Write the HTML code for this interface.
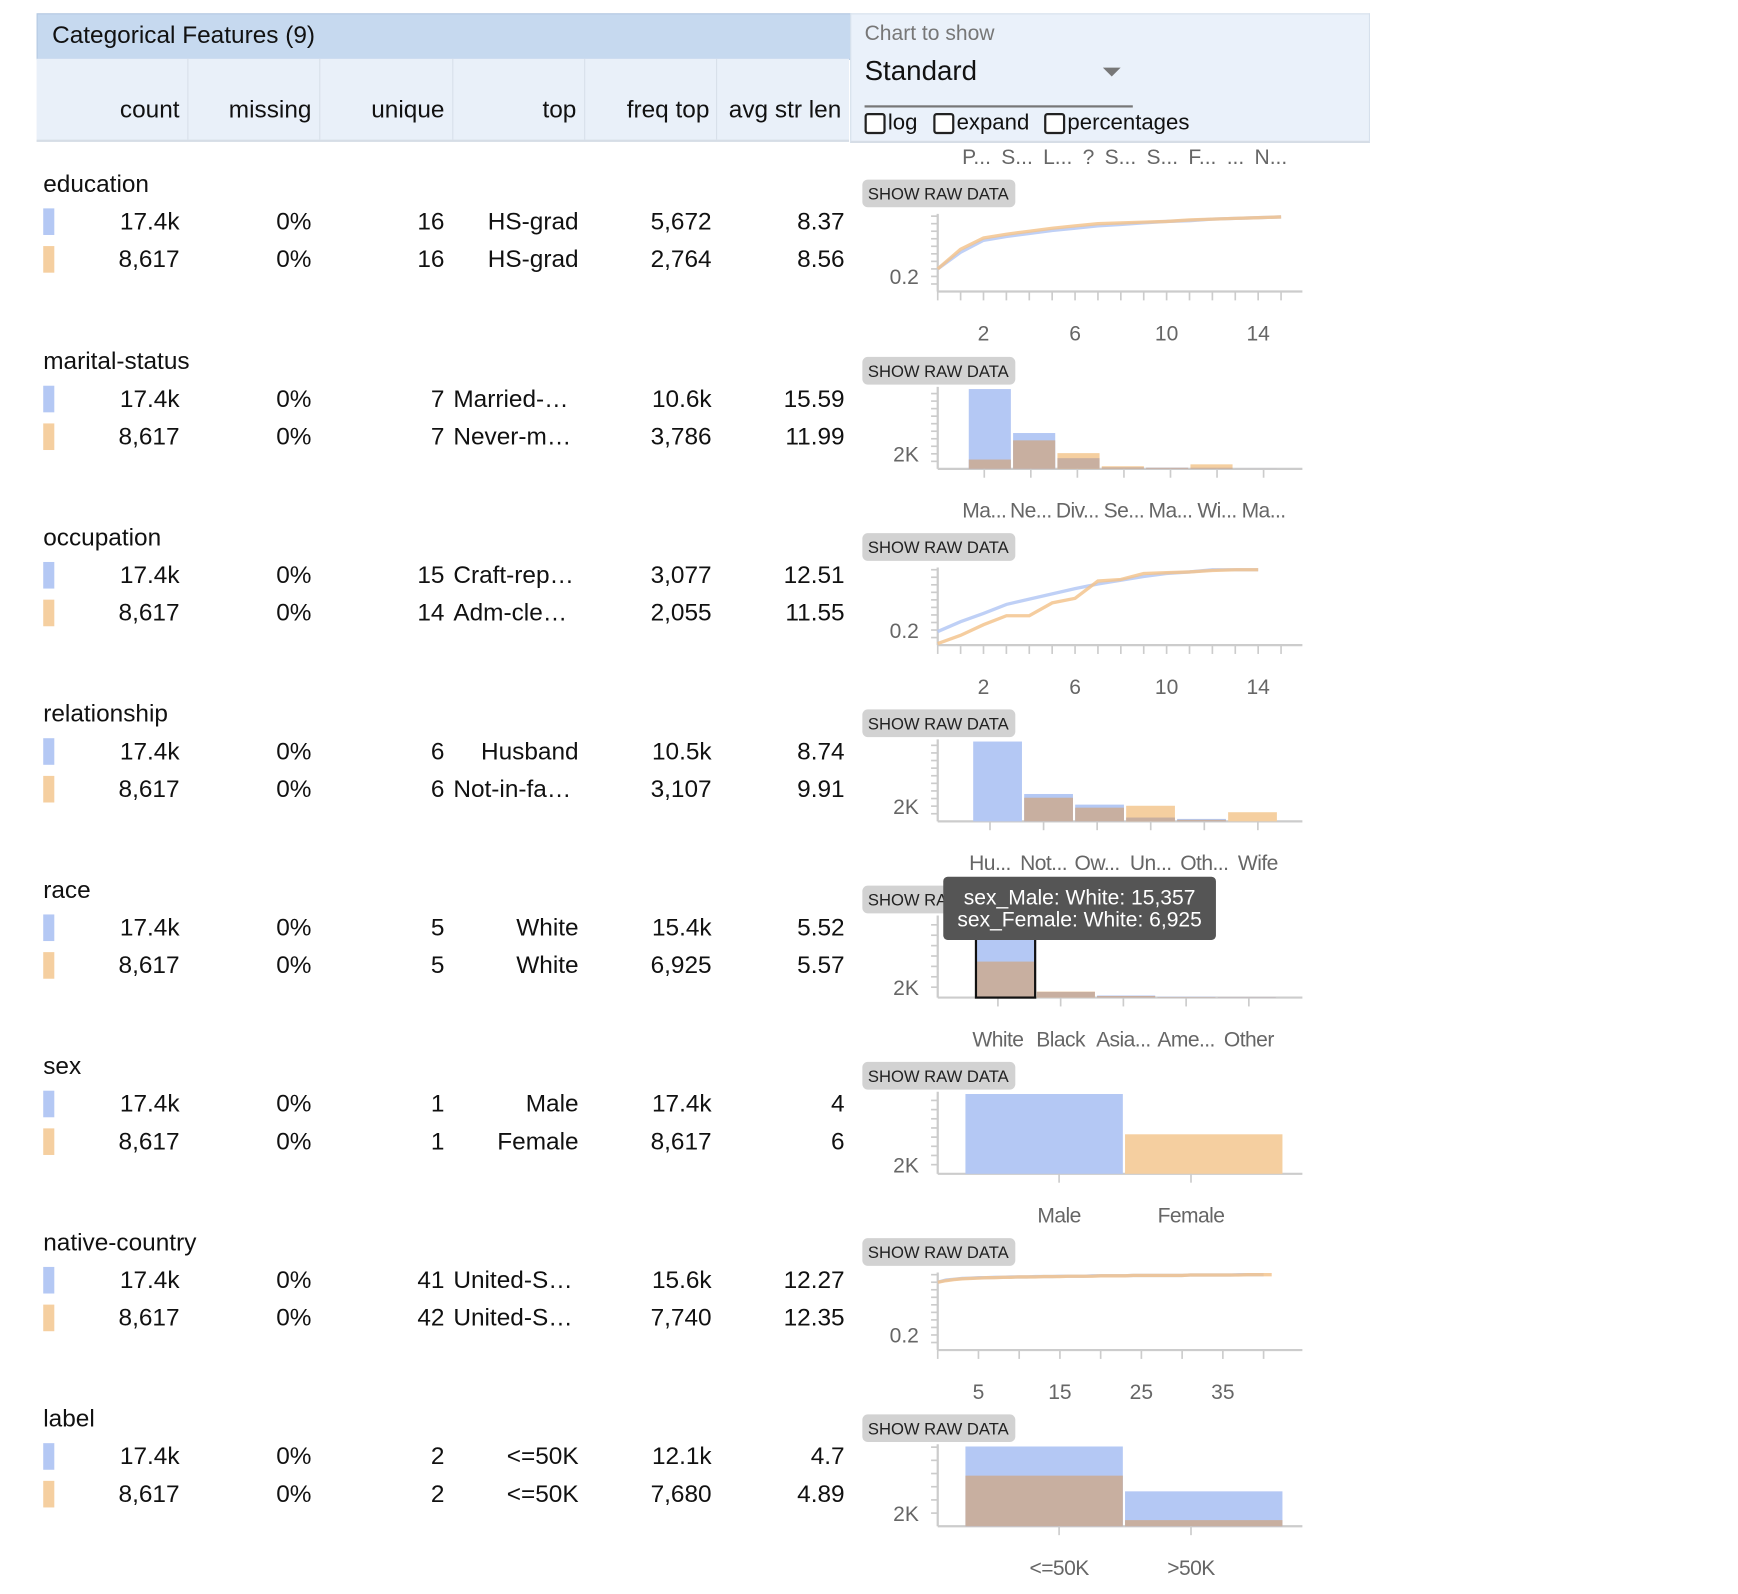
<!DOCTYPE html>
<html><head><meta charset="utf-8">
<style>
html,body{margin:0;padding:0;background:#fff;overflow:hidden;width:1738px;height:1594px}
#root{position:absolute;left:0;top:0;width:1568px;height:1438px;transform:scale(1.10842);transform-origin:0 0;font-family:"Liberation Sans",sans-serif;color:#111}
.a{position:absolute;white-space:nowrap}
.hdr{font-size:22px;text-align:right}
.v{font-size:22px;text-align:right;position:absolute;white-space:nowrap}
.name{font-size:22px;position:absolute}
.sw{position:absolute;width:10px;height:24px}
.cb{position:absolute;width:15px;height:15px;border:2px solid #222;border-radius:3px;background:#fff}
</style></head><body>
<div id="root">
  <div class="a" style="left:33px;top:12px;width:733px;height:40px;background:#c6d9ef;border:1px solid #b5c9e2"></div>
  <div class="a" style="left:47px;top:19px;font-size:22px">Categorical Features (9)</div>
  <div class="a" style="left:33px;top:53px;width:733px;height:73px;background:#e9f0f9;border-bottom:2px solid #d6dde6"></div>
  <div class="a" style="left:767px;top:12px;width:467px;height:114px;background:#eaf1fa;border:1px solid #d6e0ec;border-bottom:2px solid #d6dde6"></div>
  <div class="a" style="left:169px;top:53px;width:1px;height:73px;background:#d8e0ea"></div>
  <div class="a" style="left:288px;top:53px;width:1px;height:73px;background:#d8e0ea"></div>
  <div class="a" style="left:408px;top:53px;width:1px;height:73px;background:#d8e0ea"></div>
  <div class="a" style="left:527px;top:53px;width:1px;height:73px;background:#d8e0ea"></div>
  <div class="a" style="left:646px;top:53px;width:1px;height:73px;background:#d8e0ea"></div>
  <div class="a hdr" style="left:62px;top:86px;width:100px">count</div>
  <div class="a hdr" style="left:181px;top:86px;width:100px">missing</div>
  <div class="a hdr" style="left:301px;top:86px;width:100px">unique</div>
  <div class="a hdr" style="left:420px;top:86px;width:100px">top</div>
  <div class="a hdr" style="left:540px;top:86px;width:100px">freq top</div>
  <div class="a hdr" style="left:640px;top:86px;width:119px">avg str len</div>
  <div class="a" style="left:780px;top:20px;font-size:19px;color:#777">Chart to show</div>
  <div class="a" style="left:780px;top:50px;width:242px;height:45px;border-bottom:2px solid #777;font-size:25px">Standard
    <div class="a" style="left:215px;top:11px;width:0;height:0;border-left:8px solid transparent;border-right:8px solid transparent;border-top:8px solid #777"></div>
  </div>
  <div class="cb" style="left:780px;top:102px"></div>
  <div class="a" style="left:801px;top:100px;font-size:20px">log</div>
  <div class="cb" style="left:842px;top:102px"></div>
  <div class="a" style="left:863px;top:100px;font-size:20px">expand</div>
  <div class="cb" style="left:942px;top:102px"></div>
  <div class="a" style="left:963px;top:100px;font-size:20px">percentages</div>
  <div id="rows"></div>
  <svg id="charts" width="1568" height="1438" style="position:absolute;left:0;top:0"></svg>
</div>
<script>
// ---------- table data ----------
var featureNames = ["education","marital-status","occupation","relationship","race","sex","native-country","label"];
var countA = ["17.4k","17.4k","17.4k","17.4k","17.4k","17.4k","17.4k","17.4k"];
var countB = ["8,617","8,617","8,617","8,617","8,617","8,617","8,617","8,617"];
var uniqueA = ["16","7","15","6","5","1","41","2"];
var uniqueB = ["16","7","14","6","5","1","42","2"];
var topA = ["HS-grad","Married-civ-spouse","Craft-rep\u2026","Husband","White","Male","United-States","<=50K"];
var topB = ["HS-grad","Never-married","Adm-cle\u2026","Not-in-family","White","Female","United-States","<=50K"];
var freqA = ["5,672","10.6k","3,077","10.5k","15.4k","17.4k","15.6k","12.1k"];
var freqB = ["2,764","3,786","2,055","3,107","6,925","8,617","7,740","7,680"];
var lenA = ["8.37","15.59","12.51","8.74","5.52","4","12.27","4.7"];
var lenB = ["8.56","11.99","11.55","9.91","5.57","6","12.35","4.89"];

// ---------- chart data ----------
var eduMale = [0.30,0.52,0.68,0.73,0.77,0.81,0.84,0.87,0.89,0.91,0.93,0.94,0.96,0.97,0.98,0.99];
var eduFemale = [0.30,0.56,0.71,0.76,0.80,0.84,0.87,0.90,0.91,0.92,0.93,0.95,0.96,0.97,0.98,0.99];
var maritalCats = ["Ma...","Ne...","Div...","Se...","Ma...","Wi...","Ma..."];
var maritalMale = [10600,4760,1420,200,150,150,10];
var maritalFemale = [1240,3786,2090,350,150,600,10];
var occMale = [0.18,0.31,0.42,0.54,0.61,0.68,0.75,0.81,0.86,0.91,0.95,0.97,1,1,1];
var occFemale = [0.02,0.13,0.27,0.39,0.39,0.56,0.62,0.85,0.87,0.95,0.96,0.97,0.99,1,1];
var relCats = ["Hu...","Not...","Ow...","Un...","Oth...","Wife"];
var relMale = [10500,3600,2200,500,320,0];
var relFemale = [0,3107,1800,2050,200,1200];
var raceCats = ["White","Black","Asia...","Ame...","Other"];
var raceMale = [15357,1100,400,150,100];
var raceFemale = [6925,1150,300,100,80];
var sexCats = ["Male","Female"];
var sexMale = [17400,0];
var sexFemale = [0,8617];
var ncMale = [0.90,0.93,0.94,0.95,0.955,0.96,0.96,0.965,0.965,0.97,0.97,0.97,0.975,0.975,0.975,0.98,0.98,0.98,0.98,0.985,0.985,0.985,0.985,0.985,0.99,0.99,0.99,0.99,0.99,0.99,0.99,0.995,0.995,0.995,0.995,0.995,0.995,1,1,1,1];
var ncFemale = [0.90,0.92,0.935,0.945,0.95,0.955,0.96,0.96,0.965,0.965,0.97,0.97,0.97,0.975,0.975,0.975,0.98,0.98,0.98,0.98,0.985,0.985,0.985,0.985,0.99,0.99,0.99,0.99,0.99,0.99,0.99,0.995,0.995,0.995,0.995,0.995,0.995,0.995,1,1,1,1];
var labelCats = ["<=50K",">50K"];
var labelMale = [12100,5300];
var labelFemale = [7680,937];

var rowTops = [166,326,485,644,803,962,1121,1280];
var BLUE="#b4c8f4", ORANGE="#f5cfa0", BROWN="#c8afa0";

// ---------- table ----------
var rows = document.getElementById('rows');
function txt(cls, left, top, width, s, name){
  var d=document.createElement('div');
  d.className=cls; d.style.left=left+'px'; d.style.top=top+'px';
  if(width) d.style.width=width+'px';
  d.textContent=s;
  
  
  rows.appendChild(d); return d;
}
featureNames.forEach(function(n,i){
  var T=rowTops[i];
  txt('name',39,T-13,0,n,'feature-name').style.width='auto';
  [[countA,countB,62,100],[null,null,181,100],[uniqueA,uniqueB,301,100],[freqA,freqB,542,100],[lenA,lenB,642,120]].forEach(function(c){
    for(var r=0;r<2;r++){
      var s=c[0]?(r?c[1][i]:c[0][i]):'0%';
      txt('v',c[2],T+21+34*r,c[3],s,'stat-value');
    }
  });
  for(var r=0;r<2;r++){
    var s=r?topB[i]:topA[i];
    var d=txt('v',409,T+21+34*r,113,s,'top-value');
    d.style.overflow='hidden'; d.style.textOverflow='ellipsis';
    if(s.indexOf('\u2026')>=0) d.style.textAlign='left';
    var sw=document.createElement('div'); sw.className='sw';
    sw.style.left='39px'; sw.style.top=(T+22+34*r)+'px'; sw.style.background=r?ORANGE:BLUE;
    
    
    rows.appendChild(sw);
  }
});

// ---------- charts ----------
var svg=document.getElementById('charts');
var NS='http://www.w3.org/2000/svg';
function el(tag,attrs,parent){var e=document.createElementNS(NS,tag);for(var k in attrs)e.setAttribute(k,attrs[k]);(parent||svg).appendChild(e);return e;}
var AX0=846, AX1=1175;
function frame(T, yStep, yMax, h, yLabel, yLabelVal){
  var b=el('rect',{x:778,y:T-4,width:138,height:25,rx:5,fill:'#d2d2d2'});
  
  
  var bt=el('text',{x:783,y:T+14,'font-size':15,fill:'#222','font-family':'Liberation Sans'}); bt.textContent='SHOW RAW DATA';
  
  
  var base=T+97;
  var ya=el('line',{x1:AX0,y1:base-h-2,x2:AX0,y2:base,stroke:'#ccc','stroke-width':2});
  
  
  for(var v=yStep; v<=yMax+1e-9; v+=yStep){
    var y=base-v/yMax*h;
    if(y<base-h-3)break;
    el('line',{x1:AX0-6,y1:y,x2:AX0,y2:y,stroke:'#ccc','stroke-width':1.5});
  }
  var yl=el('text',{x:829,y:base-yLabelVal/yMax*h+7,'font-size':19,fill:'#666','text-anchor':'end','font-family':'Liberation Sans'}); yl.textContent=yLabel;
  
  
  var xa=el('line',{x1:AX0,y1:base,x2:AX1,y2:base,stroke:'#ccc','stroke-width':2});
  
  
  return base;
}
function barChart(T, cats, male, female, barX0, barX1, tickX0, tickX1, yStep){
  var maxV=Math.max.apply(null, male.concat(female));
  var h=72;
  var base=frame(T, yStep, maxV, h, '2K', 2000);
  var n=cats.length, band=(barX1-barX0)/n, tb=(tickX1-tickX0)/n;
  function y(v){return base-v/maxV*h;}
  for(var i=0;i<n;i++){
    var x=barX0+band*i+1, w=band-2;
    var big=Math.max(male[i],female[i]), small=Math.min(male[i],female[i]);
    var r1=el('rect',{x:x,y:y(big),width:w,height:base-y(big),fill:male[i]>=female[i]?BLUE:ORANGE});
    
    
    if(small>0){
      var r2=el('rect',{x:x,y:y(small),width:w,height:base-y(small),fill:BROWN});
      
      
    }
    var tx=tickX0+tb*(i+0.5);
    el('line',{x1:tx,y1:base,x2:tx,y2:base+8,stroke:'#ccc','stroke-width':1.5});
    var t=el('text',{x:tx,y:T+141,'font-size':19,fill:'#666','text-anchor':'middle','font-family':'Liberation Sans','letter-spacing':'-0.5'}); t.textContent=cats[i];
    
    
  }
  return {y:y,base:base,band:band};
}
function lineChart(T, male, female, unitPx, tickEvery, labelVals){
  var h=68;
  var base=frame(T, 0.1, 1, h, '0.2', 0.2);
  function x(i){return AX0+i*unitPx;}
  function y(v){return base-v*h;}
  for(var t=0; x(t)<=AX1+0.5; t+=tickEvery){
    el('line',{x1:x(t),y1:base,x2:x(t),y2:base+8,stroke:'#ccc','stroke-width':1.5});
  }
  labelVals.forEach(function(v){
    var t=el('text',{x:x(v),y:T+141,'font-size':19,fill:'#666','text-anchor':'middle','font-family':'Liberation Sans'}); t.textContent=v;
    
    
  });
  [[male,BLUE,'male-cdf-line'],[female,'#f3c48e','female-cdf-line']].forEach(function(s){
    var d=s[0].map(function(v,i){return (i?'L':'M')+x(i).toFixed(1)+','+y(v).toFixed(1);}).join(' ');
    var p=el('path',{d:d,fill:'none',stroke:s[1],'stroke-width':3,'stroke-opacity':0.85});
    
    
  });
}
// education
var topLbl=el('text',{x:868,y:rowTops[0]-18,'font-size':19,fill:'#666','font-family':'Liberation Sans','word-spacing':'4'});
topLbl.textContent='P... S... L...  ?  S... S... F...  ...  N...';


lineChart(rowTops[0], eduMale, eduFemale, 20.65, 1, [2,6,10,14]);
barChart(rowTops[1], maritalCats, maritalMale, maritalFemale, 873, 1153, 867, 1161, 1000);
lineChart(rowTops[2], occMale, occFemale, 20.65, 1, [2,6,10,14]);
barChart(rowTops[3], relCats, relMale, relFemale, 877, 1153, 869, 1159, 1000);
var race=barChart(rowTops[4], raceCats, raceMale, raceFemale, 880, 1152, 872, 1155, 2000);
barChart(rowTops[5], sexCats, sexMale, sexFemale, 870, 1158, 896, 1134, 2000);
lineChart(rowTops[6], ncMale, ncFemale, 7.35, 5, [5,15,25,35]);
barChart(rowTops[7], labelCats, labelMale, labelFemale, 870, 1158, 896, 1134, 2000);
// highlight + tooltip on race White bar
var hl=el('rect',{x:880.5,y:race.y(raceMale[0]),width:race.band-1,height:race.base-race.y(raceMale[0]),fill:'none',stroke:'#111','stroke-width':2});


var tip=el('rect',{x:851,y:791,width:246,height:57,rx:4,fill:'#555'});


var t1=el('text',{x:974,y:816,'font-size':19,fill:'#fff','text-anchor':'middle','font-family':'Liberation Sans'});
t1.textContent='sex_Male: White: '+raceMale[0].toLocaleString('en-US');


var t2=el('text',{x:974,y:836,'font-size':19,fill:'#fff','text-anchor':'middle','font-family':'Liberation Sans'});
t2.textContent='sex_Female: White: '+raceFemale[0].toLocaleString('en-US');


</script>
</body></html>
